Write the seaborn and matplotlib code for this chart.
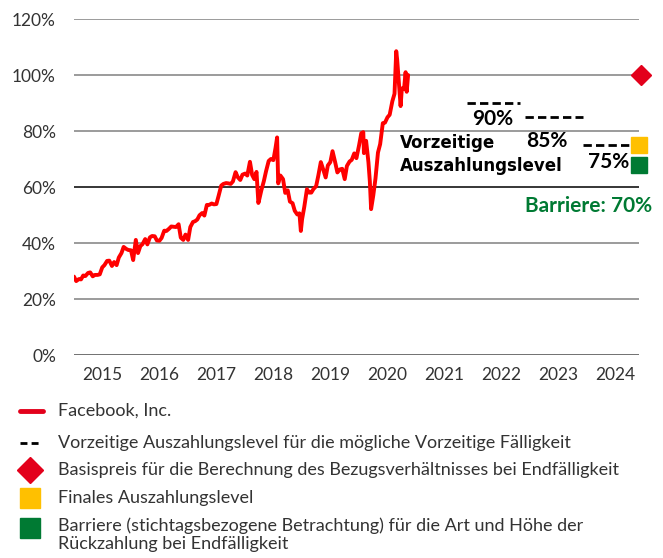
import numpy as np
import pandas as pd
import matplotlib
matplotlib.use("Agg")
import matplotlib.pyplot as plt
from matplotlib.lines import Line2D
import seaborn as sns

# ---------------- data ----------------
price_dates = [
    "2015-01-01", "2015-01-15", "2015-02-01", "2015-02-15", "2015-03-01", "2015-03-15",
    "2015-04-01", "2015-04-15", "2015-05-01", "2015-05-15", "2015-06-01", "2015-06-15",
    "2015-07-01", "2015-07-15", "2015-08-01", "2015-08-15", "2015-09-01", "2015-09-15",
    "2015-10-01", "2015-10-15", "2015-11-01", "2015-11-15", "2015-12-01", "2015-12-15",
    "2016-01-01", "2016-01-15", "2016-02-01", "2016-02-15", "2016-03-01", "2016-03-15",
    "2016-04-01", "2016-04-15", "2016-05-01", "2016-05-15", "2016-06-01", "2016-06-15",
    "2016-07-01", "2016-07-15", "2016-08-01", "2016-08-15", "2016-09-01", "2016-09-15",
    "2016-10-01", "2016-10-15", "2016-11-01", "2016-11-15", "2016-12-01", "2016-12-15",
    "2017-01-01", "2017-01-15", "2017-02-01", "2017-02-15", "2017-03-01", "2017-03-15",
    "2017-04-01", "2017-04-15", "2017-05-01", "2017-05-15", "2017-06-01", "2017-06-15",
    "2017-07-01", "2017-07-15", "2017-08-01", "2017-08-15", "2017-09-01", "2017-09-15",
    "2017-10-01", "2017-10-15", "2017-11-01", "2017-11-15", "2017-12-01", "2017-12-15",
    "2018-01-01", "2018-01-15", "2018-02-01", "2018-02-15", "2018-03-01", "2018-03-15",
    "2018-03-27", "2018-04-01", "2018-04-15", "2018-05-01", "2018-05-15", "2018-06-01",
    "2018-06-15", "2018-07-01", "2018-07-15", "2018-07-25", "2018-08-01", "2018-08-15",
    "2018-09-01", "2018-09-15", "2018-10-01", "2018-10-15", "2018-11-01", "2018-11-15",
    "2018-12-01", "2018-12-15", "2018-12-24",
    "2019-01-01", "2019-01-15", "2019-02-01", "2019-02-15", "2019-03-01", "2019-03-15",
    "2019-04-01", "2019-04-15", "2019-05-01", "2019-05-15", "2019-06-01", "2019-06-15",
    "2019-07-01", "2019-07-15", "2019-08-01", "2019-08-15", "2019-09-01", "2019-09-15",
    "2019-10-01", "2019-10-15", "2019-11-01", "2019-11-15", "2019-12-01", "2019-12-15",
    "2020-01-01", "2020-01-15", "2020-01-28", "2020-02-01", "2020-02-15", "2020-03-01",
    "2020-03-10", "2020-03-18", "2020-04-01", "2020-04-15", "2020-05-01", "2020-05-15",
    "2020-06-01", "2020-06-15", "2020-07-01", "2020-07-15", "2020-08-01", "2020-08-15",
    "2020-08-26", "2020-09-01", "2020-09-15", "2020-09-23", "2020-10-01", "2020-10-15",
    "2020-10-25", "2020-11-01", "2020-11-10",
]
price_pct = [
    28.0, 26.4, 27.1, 27.0, 28.4, 28.2, 29.3, 29.5, 28.1, 28.6, 28.6, 28.8,
    31.3, 32.1, 33.6, 33.7, 31.8, 33.2, 32.1, 34.8, 36.4, 38.6, 37.9, 37.5,
    37.4, 33.9, 41.1, 36.4, 38.9, 39.6, 41.4, 39.5, 42.0, 42.5, 42.4, 40.9,
    40.8, 41.8, 44.4, 44.3, 45.1, 45.9, 45.8, 45.7, 46.7, 41.9, 41.1, 43.0,
    41.1, 45.7, 47.5, 47.8, 48.4, 49.9, 50.7, 49.8, 53.6, 53.6, 54.1, 53.8,
    53.9, 56.8, 60.5, 61.1, 61.4, 61.3, 61.1, 62.0, 65.3, 63.5, 62.5, 64.4,
    64.8, 64.1, 69.0, 64.3, 62.8, 65.4, 54.3, 55.4, 58.8, 62.1, 65.6, 69.3,
    70.0, 69.6, 74.0, 77.7, 61.3, 64.1, 62.8, 57.9, 58.8, 54.8, 54.2, 51.5,
    50.2, 50.6, 44.3,
    48.5, 52.9, 59.2, 58.0, 58.0, 59.3, 60.3, 64.1, 68.9, 66.5, 63.4, 67.7,
    68.9, 72.8, 68.8, 65.2, 66.3, 66.5, 62.8, 67.5, 69.1, 69.7, 72.0, 70.3,
    74.9, 79.2, 79.6, 72.1, 76.5, 68.8, 62.0, 52.1, 57.0, 63.0, 72.3, 75.3,
    82.8, 83.0, 84.9, 85.8, 90.6, 93.3, 108.5, 105.5, 95.1, 88.9, 95.2, 95.0,
    101.0, 94.0, 100.0,
]

level_values = [90, 85, 75]
level_labels = ["90%", "85%", "75%"]
level_starts = ["2021-11-23", "2022-11-29", "2023-12-05"]
level_ends = ["2022-10-28", "2023-12-05", "2024-10-03"]

strike_pct = 100
final_level_pct = 75
barrier_marker_pct = 68
barrier_label = "Barriere: 70%"
annotation_lines = ["Vorzeitige", "Auszahlungslevel"]

years = list(range(2015, 2025))
y_ticks = [0, 20, 40, 60, 80, 100, 120]

legend_labels = [
    "Facebook, Inc.",
    "Vorzeitige Auszahlungslevel für die mögliche Vorzeitige Fälligkeit",
    "Basispreis für die Berechnung des Bezugsverhältnisses bei Endfälligkeit",
    "Finales Auszahlungslevel",
    "Barriere (stichtagsbezogene Betrachtung) für die Art und Höhe der\nRückzahlung bei Endfälligkeit",
]

# ---------------- style ----------------
sns.set_style("white")
plt.rcParams["font.family"] = ["Lato", "DejaVu Sans"]

RED = "#FF0000"
DIAMOND_RED = "#E3001B"
ORANGE = "#FFC000"
GREEN = "#007A33"
TEXT = "#333333"
W, H = 663, 558

fig = plt.figure(figsize=(W / 100, H / 100), dpi=100)
ax = fig.add_axes([74 / W, 1 - 355 / H, (639 - 74) / W, (355 - 19) / H])

df = pd.DataFrame({"date": pd.to_datetime(price_dates), "pct": price_pct})

# grid lines
for yv in y_ticks:
    if yv == 60:
        c, lw = "#000000", 1.1
    elif yv == 0:
        c, lw = "#666666", 1.3
    else:
        c, lw = "#8a8a8a", 1.2
    ax.axhline(yv, color=c, lw=lw, zorder=1)

sns.lineplot(data=df, x="date", y="pct", ax=ax, color=RED, lw=2.8, zorder=3)

# early redemption levels
for v, s, e in zip(level_values, level_starts, level_ends):
    xs = pd.to_datetime([s, e])
    ax.plot(xs, [v, v], color="black", lw=2.0, ls=(0, (3, 1.5)), zorder=3)

lbl_pos = {
    "90%": (pd.Timestamp("2022-05-08"), 82.2, "center"),
    "85%": (pd.Timestamp("2023-04-20"), 74.4, "center"),
    "75%": (pd.Timestamp("2024-09-25"), 66.8, "right"),
}
for lab in level_labels:
    xv, yv, ha = lbl_pos[lab]
    ax.text(xv, yv, lab, ha=ha, va="baseline", fontsize=15,
            fontweight="bold", color="black", zorder=4)

ann_x = pd.Timestamp("2020-09-20")
ax.text(ann_x, 74.0, annotation_lines[0], ha="left", va="baseline",
        fontsize=12, fontweight="bold", color="black", zorder=4,
        family=["DejaVu Sans"])
ax.text(ann_x, 65.8, annotation_lines[1], ha="left", va="baseline",
        fontsize=12, fontweight="bold", color="black", zorder=4,
        family=["DejaVu Sans"])

# markers
ax.plot([pd.Timestamp("2024-12-10")], [strike_pct], marker="D", ms=10.5,
        color=DIAMOND_RED, mec=DIAMOND_RED, ls="none", clip_on=False, zorder=5)
ax.plot([pd.Timestamp("2024-11-28")], [final_level_pct], marker="s", ms=11.5,
        color=ORANGE, mec=ORANGE, ls="none", clip_on=False, zorder=5)
ax.plot([pd.Timestamp("2024-11-28")], [barrier_marker_pct], marker="s", ms=11.5,
        color=GREEN, mec=GREEN, ls="none", clip_on=False, zorder=5)

ax.text(pd.Timestamp("2025-02-18"), 51.1, barrier_label, ha="right", va="baseline",
        fontsize=15, fontweight="bold", color=GREEN, zorder=4)

# axes
ax.set_xlim(pd.Timestamp("2015-01-01"), pd.Timestamp("2024-11-28"))
ax.set_ylim(0, 120)
ax.set_yticks(y_ticks)
ax.set_yticklabels([f"{v}%" for v in y_ticks])
ax.set_xticks([pd.Timestamp(f"{y}-07-01") for y in years])
ax.set_xticklabels([str(y) for y in years])
ax.set_xticks([pd.Timestamp(f"{y}-01-01") for y in years], minor=True)
ax.tick_params(axis="x", which="major", length=0, pad=9, labelsize=12.5, labelcolor=TEXT)
ax.tick_params(axis="x", which="minor", length=4, width=1, color="#666666", direction="out")
ax.tick_params(axis="y", length=0, pad=13, labelsize=12.5, labelcolor=TEXT)
ax.set_xlabel("")
ax.set_ylabel("")
for sp in ax.spines.values():
    sp.set_visible(False)
ax.grid(False)

# legend (placed manually in figure pixels)
row_y = [411, 443, 470, 498, 528]
text_x = 58 / W
fy = lambda y: 1 - y / H
fig.add_artist(Line2D([20 / W, 43 / W], [fy(row_y[0])] * 2, color=DIAMOND_RED, lw=3.5,
                      transform=fig.transFigure))
fig.add_artist(Line2D([20 / W, 42 / W], [fy(row_y[1])] * 2, color="black", lw=2,
                      ls=(0, (2.5, 1.5)), transform=fig.transFigure))
fig.add_artist(Line2D([30 / W], [fy(row_y[2])], marker="D", ms=13, color=DIAMOND_RED,
                      ls="none", transform=fig.transFigure))
fig.add_artist(Line2D([30 / W], [fy(row_y[3])], marker="s", ms=14, color=ORANGE,
                      ls="none", transform=fig.transFigure))
fig.add_artist(Line2D([30 / W], [fy(row_y[4])], marker="s", ms=14, color=GREEN,
                      ls="none", transform=fig.transFigure))
for i, lab in enumerate(legend_labels):
    if i < 4:
        fig.text(text_x, fy(row_y[i]), lab, ha="left", va="center",
                 fontsize=13, color=TEXT)
    else:
        fig.text(text_x, fy(row_y[i] - 11), lab, ha="left", va="top",
                 fontsize=13, color=TEXT, linespacing=1.15)

fig.savefig("out.png", dpi=100)
